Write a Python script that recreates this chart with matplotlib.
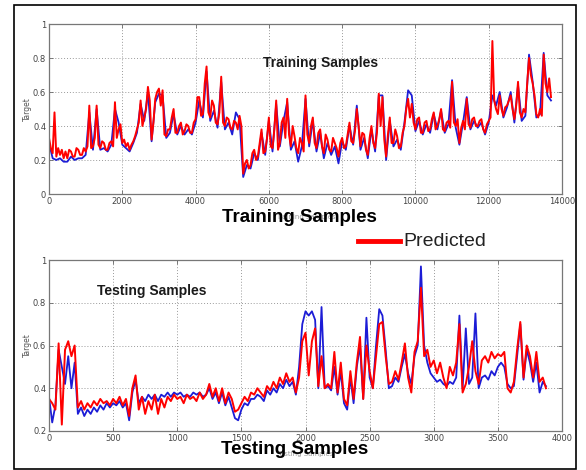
import numpy as np
import matplotlib
matplotlib.use("Agg")
import matplotlib.pyplot as plt
from matplotlib.patches import Rectangle
from matplotlib.lines import Line2D

# ---------------- data ----------------
train_pred_step = 50
train_predicted = [
    0.33, 0.27, 0.24, 0.48, 0.22, 0.27, 0.23, 0.26, 0.21, 0.25,
    0.21, 0.26, 0.25, 0.22, 0.22, 0.27, 0.26, 0.23, 0.23, 0.27,
    0.25, 0.28, 0.52, 0.27, 0.28, 0.33, 0.52, 0.29, 0.27, 0.31,
    0.30, 0.26, 0.26, 0.30, 0.31, 0.28, 0.54, 0.33, 0.38, 0.41,
    0.30, 0.32, 0.28, 0.30, 0.26, 0.29, 0.31, 0.34, 0.38, 0.42,
    0.55, 0.40, 0.45, 0.50, 0.63, 0.55, 0.32, 0.42, 0.56, 0.60,
    0.62, 0.52, 0.61, 0.35, 0.34, 0.38, 0.38, 0.45, 0.50, 0.36,
    0.36, 0.40, 0.42, 0.35, 0.37, 0.41, 0.40, 0.36, 0.36, 0.42,
    0.44, 0.57, 0.57, 0.46, 0.47, 0.65, 0.75, 0.48, 0.45, 0.55,
    0.52, 0.42, 0.41, 0.48, 0.69, 0.42, 0.40, 0.45, 0.44, 0.39,
    0.38, 0.43, 0.42, 0.38, 0.46, 0.40, 0.12, 0.18, 0.20, 0.15,
    0.17, 0.24, 0.26, 0.20, 0.22, 0.30, 0.38, 0.24, 0.25, 0.33,
    0.45, 0.28, 0.27, 0.38, 0.55, 0.26, 0.30, 0.42, 0.45, 0.33,
    0.56, 0.35, 0.28, 0.40, 0.34, 0.27, 0.24, 0.33, 0.30, 0.25,
    0.58, 0.35, 0.30, 0.40, 0.45, 0.30, 0.27, 0.36, 0.38, 0.28,
    0.24, 0.35, 0.32, 0.26, 0.25, 0.33, 0.30, 0.27, 0.22, 0.30,
    0.33, 0.27, 0.28, 0.35, 0.42, 0.31, 0.30, 0.37, 0.50, 0.40,
    0.28, 0.36, 0.35, 0.26, 0.23, 0.33, 0.40, 0.30, 0.27, 0.36,
    0.59, 0.40, 0.57, 0.32, 0.22, 0.35, 0.45, 0.30, 0.30, 0.38,
    0.34, 0.27, 0.28, 0.36, 0.40, 0.50, 0.56, 0.45, 0.53, 0.42,
    0.38, 0.44, 0.45, 0.36, 0.36, 0.42, 0.43, 0.37, 0.38, 0.44,
    0.48, 0.38, 0.40, 0.44, 0.50, 0.38, 0.37, 0.42, 0.43, 0.39,
    0.66, 0.42, 0.40, 0.44, 0.30, 0.39, 0.43, 0.38, 0.56, 0.41,
    0.39, 0.44, 0.45, 0.40, 0.40, 0.43, 0.44, 0.38, 0.36, 0.41,
    0.43, 0.45, 0.90, 0.55, 0.50, 0.47, 0.58, 0.50, 0.46, 0.51,
    0.52, 0.55, 0.58, 0.50, 0.44, 0.52, 0.66, 0.48, 0.45, 0.50,
    0.48, 0.65, 0.80, 0.70, 0.65, 0.58, 0.47, 0.45, 0.50, 0.46,
    0.82, 0.65, 0.60, 0.68, 0.57,
]
train_target_step = 100
train_target = [
    0.30, 0.21, 0.20, 0.21, 0.19, 0.19, 0.22, 0.20, 0.21, 0.21,
    0.23, 0.48, 0.26, 0.50, 0.26, 0.27, 0.25, 0.29, 0.50, 0.42,
    0.29, 0.27, 0.25, 0.30, 0.36, 0.53, 0.43, 0.60, 0.31, 0.54,
    0.59, 0.58, 0.33, 0.36, 0.47, 0.35, 0.40, 0.35, 0.38, 0.35,
    0.42, 0.55, 0.45, 0.72, 0.43, 0.49, 0.39, 0.66, 0.38, 0.42,
    0.35, 0.48, 0.44, 0.10, 0.17, 0.15, 0.24, 0.20, 0.36, 0.23,
    0.43, 0.25, 0.53, 0.28, 0.43, 0.54, 0.26, 0.31, 0.19, 0.28,
    0.56, 0.28, 0.43, 0.25, 0.36, 0.21, 0.30, 0.23, 0.28, 0.18,
    0.31, 0.26, 0.40, 0.29, 0.52, 0.26, 0.33, 0.21, 0.38, 0.25,
    0.58, 0.58, 0.20, 0.43, 0.28, 0.32, 0.26, 0.42, 0.61, 0.58,
    0.37, 0.43, 0.35, 0.41, 0.36, 0.47, 0.38, 0.49, 0.36, 0.41,
    0.67, 0.39, 0.29, 0.42, 0.57, 0.38, 0.43, 0.39, 0.42, 0.35,
    0.42, 0.58, 0.52, 0.60, 0.45, 0.51, 0.60, 0.42, 0.64, 0.43,
    0.46, 0.82, 0.66, 0.45, 0.47, 0.83, 0.58, 0.55,
]

test_step = 25
test_predicted = [
    0.35, 0.33, 0.30, 0.61, 0.23, 0.58, 0.62, 0.55, 0.60, 0.31,
    0.34, 0.30, 0.33, 0.31, 0.34, 0.32, 0.35, 0.33, 0.34, 0.32,
    0.35, 0.33, 0.36, 0.32, 0.35, 0.27, 0.40, 0.46, 0.30, 0.36,
    0.28, 0.34, 0.30, 0.37, 0.28, 0.35, 0.31, 0.36, 0.34, 0.37,
    0.35, 0.36, 0.33, 0.37, 0.35, 0.36, 0.34, 0.38, 0.35, 0.37,
    0.42, 0.36, 0.40, 0.34, 0.40, 0.33, 0.38, 0.35, 0.29, 0.30,
    0.33, 0.36, 0.34, 0.38, 0.37, 0.40, 0.38, 0.36, 0.41, 0.39,
    0.43, 0.40, 0.45, 0.42, 0.47, 0.43, 0.45, 0.38, 0.45, 0.62,
    0.66, 0.46, 0.62, 0.68, 0.41, 0.55, 0.40, 0.42, 0.40, 0.57,
    0.38, 0.52, 0.35, 0.32, 0.48, 0.35, 0.52, 0.64, 0.35, 0.60,
    0.48, 0.40, 0.55, 0.70, 0.71, 0.55, 0.42, 0.43, 0.48, 0.44,
    0.52, 0.61, 0.45, 0.38, 0.57, 0.62, 0.87, 0.55, 0.58, 0.50,
    0.53, 0.47, 0.52, 0.45, 0.40, 0.50, 0.46, 0.52, 0.70, 0.38,
    0.42, 0.50, 0.62, 0.48, 0.42, 0.53, 0.55, 0.52, 0.57, 0.54,
    0.56, 0.55, 0.57, 0.40, 0.38, 0.43, 0.58, 0.71, 0.45, 0.60,
    0.55, 0.45, 0.57, 0.43, 0.45, 0.40,
]
test_target = [
    0.36, 0.24, 0.32, 0.58, 0.50, 0.42, 0.55, 0.40, 0.52, 0.28,
    0.31, 0.27, 0.30, 0.28, 0.31, 0.29, 0.32, 0.30, 0.33, 0.31,
    0.33, 0.32, 0.34, 0.31, 0.33, 0.25, 0.38, 0.44, 0.33, 0.36,
    0.34, 0.37, 0.35, 0.37, 0.34, 0.37, 0.36, 0.38, 0.36, 0.38,
    0.37, 0.38, 0.36, 0.37, 0.36, 0.38, 0.37, 0.38, 0.36, 0.37,
    0.40, 0.35, 0.38, 0.33, 0.38, 0.32, 0.36, 0.31, 0.26, 0.25,
    0.30, 0.33, 0.32, 0.35, 0.35, 0.37, 0.36, 0.34, 0.39, 0.37,
    0.40, 0.38, 0.42, 0.40, 0.44, 0.41, 0.43, 0.37, 0.50, 0.70,
    0.76, 0.74, 0.76, 0.72, 0.40, 0.78, 0.40, 0.41, 0.39, 0.50,
    0.37, 0.48, 0.33, 0.30, 0.45, 0.33, 0.50, 0.60, 0.35, 0.73,
    0.45, 0.40, 0.60, 0.77, 0.74, 0.58, 0.40, 0.41, 0.45, 0.43,
    0.50, 0.56, 0.47, 0.42, 0.55, 0.60, 0.97, 0.60, 0.52, 0.47,
    0.45, 0.43, 0.44, 0.42, 0.41, 0.43, 0.42, 0.45, 0.74, 0.40,
    0.68, 0.42, 0.45, 0.75, 0.40, 0.45, 0.46, 0.44, 0.48, 0.46,
    0.50, 0.52, 0.50, 0.42, 0.40, 0.41, 0.55, 0.70, 0.44, 0.58,
    0.52, 0.43, 0.52, 0.38, 0.43, 0.41,
]

train_xticks = [0, 2000, 4000, 6000, 8000, 10000, 12000, 14000]
train_yticks = [0, 0.2, 0.4, 0.6, 0.8, 1]
train_yticklabels = ["0", "0.2", "0.4", "0.6", "0.8", "1"]
test_xticks = [0, 500, 1000, 1500, 2000, 2500, 3000, 3500, 4000]
test_yticks = [0.2, 0.4, 0.6, 0.8, 1]
test_yticklabels = ["0.2", "0.4", "0.6", "0.8", "1"]

# ---------------- figure ----------------
W, H = 586, 470
fig = plt.figure(figsize=(W / 100, H / 100), dpi=100)
fig.patch.set_facecolor("white")

TICK_FONT = ["Liberation Sans Narrow", "DejaVu Sans"]
BLUE = "#1c1cd6"
RED = "#ff0000"


def px_axes(x0, y0, x1, y1):
    return fig.add_axes([x0 / W, 1 - y1 / H, (x1 - x0) / W, (y1 - y0) / H])


def style(ax, xticks, yticks, yticklabels, xlim, ylim):
    ax.set_xlim(*xlim)
    ax.set_ylim(*ylim)
    ax.set_xticks(xticks)
    ax.set_xticklabels([str(t) for t in xticks], fontfamily=TICK_FONT)
    ax.set_yticks(yticks)
    ax.set_yticklabels(yticklabels, fontfamily=TICK_FONT)
    ax.tick_params(direction="in", length=3, width=0.6, top=True, right=True,
                   labelsize=6, labelcolor="#444444", color="#666666", pad=2)
    ax.grid(True, linestyle=(0, (1, 2)), color="#9a9a9a", linewidth=0.7)
    for s in ax.spines.values():
        s.set_color("#777777")
        s.set_linewidth(0.9)


# training panel
ax1 = px_axes(49, 24, 562, 194)
xt_target = np.arange(len(train_target)) * train_target_step
xt_pred = np.arange(len(train_predicted)) * train_pred_step
ax1.plot(xt_target, train_target, color=BLUE, linewidth=1.3)
ax1.plot(xt_pred, train_predicted, color=RED, linewidth=1.4)
style(ax1, train_xticks, train_yticks, train_yticklabels, (0, 14000), (0, 1))
ax1.set_ylabel("Target", fontsize=5.5, color="#555555", labelpad=1)
ax1.set_xlabel("Training Samples", fontsize=5, color="#999999", labelpad=6)
ax1.text(0.53, 0.77, "Training Samples", transform=ax1.transAxes,
         fontsize=10, fontweight="bold", family="Liberation Sans",
         ha="center", va="center", color="#1a1a1a")

# testing panel
ax2 = px_axes(49, 260, 562, 431)
xs = np.arange(len(test_target)) * test_step
ax2.plot(xs, test_target, color=BLUE, linewidth=1.3)
ax2.plot(xs, test_predicted, color=RED, linewidth=1.4)
style(ax2, test_xticks, test_yticks, test_yticklabels, (0, 4000), (0.2, 1))
ax2.set_ylabel("Target", fontsize=5.5, color="#555555", labelpad=1)
ax2.set_xlabel("Testing Samples", fontsize=5, color="#999999", labelpad=6)
ax2.text(0.2, 0.82, "Testing Samples", transform=ax2.transAxes,
         fontsize=10, fontweight="bold", family="Liberation Sans",
         ha="center", va="center", color="#1a1a1a")

# large captions between / below panels
fig.text(299 / W, 1 - 217 / H, "Training Samples", fontsize=13.5,
         fontweight="bold", family="Liberation Sans", ha="center", va="center")
fig.text(295 / W, 1 - 450 / H, "Testing Samples", fontsize=13.5,
         fontweight="bold", family="Liberation Sans", ha="center", va="center")

# legend entry
fig.add_artist(Line2D([358 / W, 400 / W], [1 - 241 / H, 1 - 241 / H],
                      color=RED, linewidth=3.5, transform=fig.transFigure))
fig.text(403 / W, 1 - 242 / H, "Predicted", fontsize=14,
         family="Liberation Sans", ha="left", va="center", color="#222222")

# outer frame
fig.add_artist(Rectangle((14 / W, 1 - 469 / H), (576 - 14) / W, (469 - 5) / H,
                         fill=False, edgecolor="black", linewidth=1.2,
                         transform=fig.transFigure))

fig.savefig("out.png", dpi=100, facecolor="white")
